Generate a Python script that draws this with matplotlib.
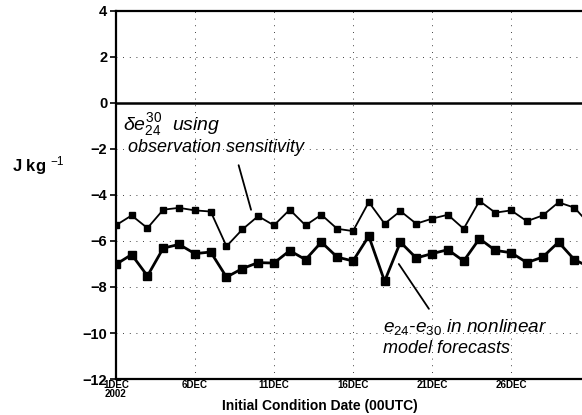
import numpy as np
import matplotlib.pyplot as plt

plt.rcParams['font.family'] = ['Liberation Sans', 'DejaVu Sans']
plt.rcParams['mathtext.fontset'] = 'custom'
plt.rcParams['mathtext.rm'] = 'Liberation Sans'
plt.rcParams['mathtext.it'] = 'Liberation Sans:italic'

# day of December 2002 (00UTC)
days = list(range(1, 32))

# delta e_24^30 from observation sensitivity
obs_sens = [-5.32, -4.89, -5.44, -4.64, -4.56, -4.67, -4.72, -6.23, -5.50, -4.92,
            -5.32, -4.64, -5.32, -4.86, -5.47, -5.57, -4.31, -5.25, -4.70, -5.25,
            -5.03, -4.86, -5.47, -4.26, -4.77, -4.67, -5.14, -4.89, -4.32, -4.55,
            -5.30]

# e_24 - e_30 in nonlinear model forecasts
nonlinear = [-7.02, -6.59, -7.52, -6.31, -6.15, -6.55, -6.48, -7.57, -7.20, -6.94,
             -6.96, -6.42, -6.81, -6.05, -6.70, -6.87, -5.79, -7.75, -6.05, -6.74,
             -6.55, -6.38, -6.87, -5.90, -6.41, -6.51, -6.94, -6.70, -6.05, -6.81,
             -7.15]

xticks = [1, 6, 11, 16, 21, 26]
xticklabels = ['1DEC\n2002', '6DEC', '11DEC', '16DEC', '21DEC', '26DEC']
yticks = [4, 2, 0, -2, -4, -6, -8, -10, -12]

fig = plt.figure(figsize=(5.82, 4.15), dpi=100)
ax = fig.add_axes([0.199, 0.0867, 0.815, 0.887])

ax.plot(days, obs_sens, color='black', lw=1.3, marker='s', ms=4.5)
ax.plot(days, nonlinear, color='black', lw=2.0, marker='s', ms=5.5)

ax.axhline(0, color='black', lw=1.8)
ax.set_xlim(1, 31)
ax.set_ylim(-12, 4)

ax.set_yticks(yticks)
ax.set_yticklabels([str(v).replace('-', '\u2212') for v in yticks],
                   fontsize=10.5, fontweight='bold')
ax.set_xticks(xticks)
ax.set_xticklabels(xticklabels, fontsize=7, fontweight='bold', linespacing=0.8)
ax.tick_params(axis='x', length=0, pad=1)
ax.tick_params(axis='y', length=4, width=1.2, direction='out', pad=2)

ax.grid(True, color='black', lw=0.6, linestyle=(0, (1, 7)))

for s in ['left', 'bottom', 'top']:
    ax.spines[s].set_linewidth(1.6)
ax.spines['right'].set_visible(False)

ax.set_xlabel('Initial Condition Date (00UTC)', fontsize=10, fontweight='bold')
ax.xaxis.set_label_coords(0.43, -0.055)

fig.text(0.02, 0.6, 'J kg $^{-1}$', fontsize=12, fontweight='bold',
         va='center', ha='left')

ax.text(1.45, -1.2, '$\\delta e_{24}^{30}$  using', fontsize=14, style='italic',
        va='baseline')
ax.text(1.8, -2.15, 'observation sensitivity', fontsize=13, style='italic',
        va='baseline')
ax.annotate('', xy=(9.6, -4.76), xytext=(8.72, -2.59),
            arrowprops=dict(arrowstyle='-', color='black', lw=1.3))

ax.text(17.9, -9.95, '$e_{24}$-$e_{30}$ in nonlinear', fontsize=13.7, style='italic',
        va='baseline')
ax.text(17.9, -10.88, 'model forecasts', fontsize=13, style='italic',
        va='baseline')
ax.annotate('', xy=(18.8, -6.9), xytext=(20.9, -9.05),
            arrowprops=dict(arrowstyle='-', color='black', lw=1.3))

fig.savefig('out.png', dpi=100)
